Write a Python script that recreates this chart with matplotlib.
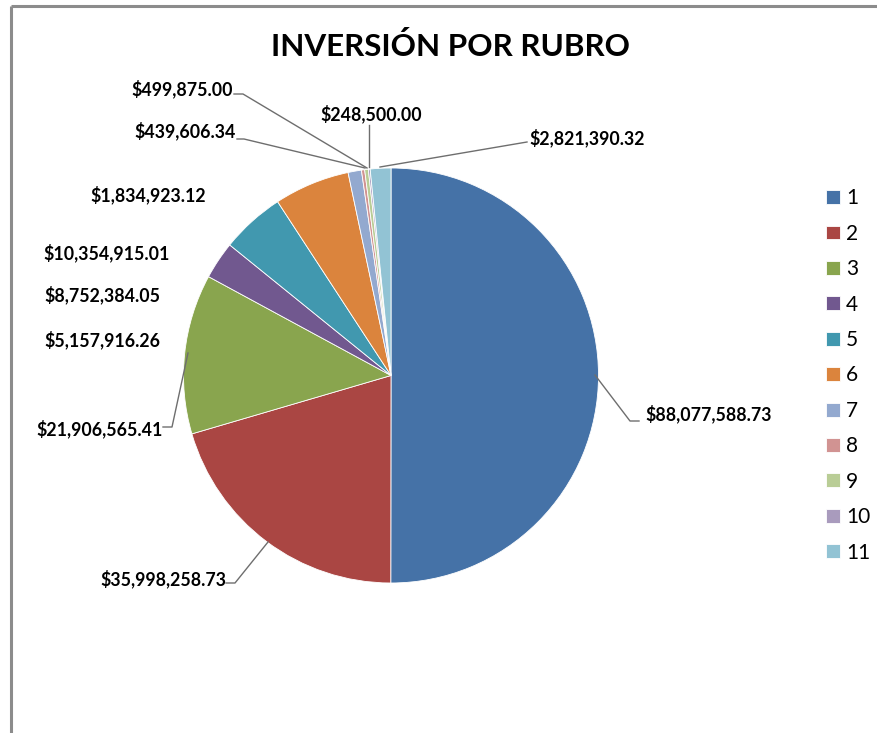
import matplotlib
matplotlib.use("Agg")
import matplotlib.pyplot as plt
from matplotlib.lines import Line2D

# Investment per item (rubro)
rubros = ["1", "2", "3", "4", "5", "6", "7", "8", "9", "10", "11"]
montos = [88077588.73, 35998258.73, 21906565.41, 5157916.26, 8752384.05,
          10354915.01, 1834923.12, 439606.34, 499875.00, 248500.00, 2821390.32]
colores = ["#4572A7", "#AA4643", "#89A54E", "#71588F", "#4198AF", "#DB843D",
           "#93A9CF", "#D19392", "#B9CD96", "#A99BBD", "#92C3D4"]
titulo = "INVERSIÓN POR RUBRO"

W, H = 878, 733
fig = plt.figure(figsize=(W / 100, H / 100), dpi=100)
ax = fig.add_axes([0, 0, 1, 1])
ax.set_xlim(0, W)
ax.set_ylim(0, H)
ax.set_aspect("equal")
ax.axis("off")

def py(y):
    # pixel row (from top) -> data y
    return H - y

cx, cy, r = 391, 375.5, 207.5
wedges, _ = ax.pie(montos, colors=colores, startangle=90, counterclock=False,
                   center=(cx, py(cy)), radius=r,
                   wedgeprops=dict(edgecolor="white", linewidth=0.6))
ax.set_xlim(0, W)
ax.set_ylim(0, H)

# chart-area border (top and left)
ax.add_line(Line2D([11, W], [py(6), py(6)], color="#8c8c8c", lw=2.2, solid_capstyle="butt"))
ax.add_line(Line2D([11, 11], [py(6), 0], color="#8c8c8c", lw=2.2, solid_capstyle="butt"))

fig.text(451 / W, 1 - 47 / H, titulo, ha="center", va="center",
         fontsize=22.6, fontweight="bold", family="Lato", color="#000000")

def fmt(v):
    return "${:,.2f}".format(v)

lab_font = dict(fontsize=12.8, fontweight="bold", family="Lato", color="#000000")
lead = dict(color="#6e6e6e", lw=1)

# (index, text x, text y, ha, leader polyline points in pixels)
etiquetas = [
    (0, 645, 414, "left", [(595, 375), (630, 421), (639, 421)]),
    (1, 226, 579, "right", [(268, 542), (235, 583), (226, 583)]),
    (2, 163, 429, "right", [(188, 353), (172, 427), (163, 427)]),
    (3, 160, 340, "right", None),
    (4, 160, 295, "right", None),
    (5, 170, 253, "right", None),
    (6, 206, 195, "right", None),
    (7, 236, 131, "right", [(365, 168), (244, 139), (237, 139)]),
    (8, 233, 89, "right", [(367, 168), (243, 94), (234, 94)]),
    (9, 371, 114, "center", [(369, 167), (369, 125)]),
    (10, 529, 138, "left", [(380, 167), (527, 142)]),
]
for i, tx, ty, ha, pts in etiquetas:
    ax.text(tx, py(ty), fmt(montos[i]), ha=ha, va="center", **lab_font)
    if pts:
        ax.add_line(Line2D([p[0] for p in pts], [py(p[1]) for p in pts], **lead))

leg = fig.legend(wedges, rubros, loc="upper left",
                 bbox_to_anchor=(816 / W, 1 - 178 / H), frameon=False,
                 prop=dict(family="Lato", size=15),
                 handlelength=0.65, handleheight=0.65, handletextpad=0.3,
                 labelspacing=0.74, borderpad=0)

fig.savefig("out.png", dpi=100, facecolor="white")
